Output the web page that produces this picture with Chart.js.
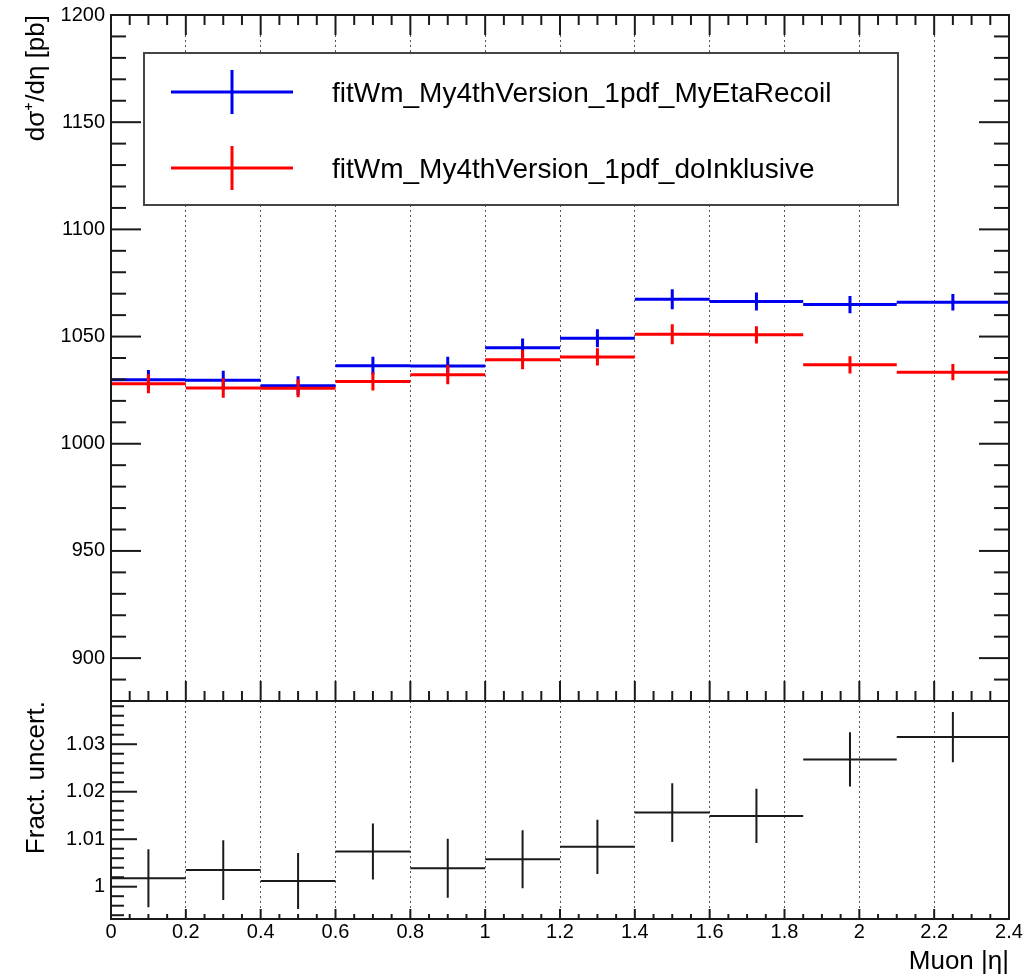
<!DOCTYPE html>
<html>
<head>
<meta charset="utf-8">
<script src="https://cdn.jsdelivr.net/npm/chart.js@4.4.1/dist/chart.umd.min.js"></script>
<style>
  html, body { margin: 0; padding: 0; background: #fff; }
  #wrap { position: relative; width: 1025px; height: 977px; overflow: hidden; }
  #xsecCanvas { position: absolute; left: 0; top: 0; }
  #ratioCanvas { position: absolute; left: 0; top: 690px; }
</style>
</head>
<body>
<div id="wrap">
  <canvas id="xsecCanvas" width="1025" height="712"></canvas>
  <canvas id="ratioCanvas" width="1025" height="287"></canvas>
</div>
<script>
// --- Data ---
const binEdges = [0, 0.2, 0.4, 0.6, 0.8, 1.0, 1.2, 1.4, 1.6, 1.85, 2.1, 2.4];
const seriesNames = ['fitWm_My4thVersion_1pdf_MyEtaRecoil', 'fitWm_My4thVersion_1pdf_doInklusive'];
const recoilXsec = [1029.9, 1029.6, 1027.1, 1036.4, 1036.3, 1044.8, 1049.2, 1067.4, 1066.3, 1064.9, 1066.0];
const recoilErr  = [4.5, 4.5, 4.4, 4.2, 4.3, 4.3, 4.2, 4.7, 4.2, 4.0, 3.9];
const inclXsec   = [1028.0, 1026.0, 1025.9, 1029.0, 1032.2, 1039.2, 1040.5, 1051.1, 1050.8, 1036.8, 1033.4];
const inclErr    = [4.4, 4.5, 4.2, 4.2, 4.5, 4.5, 4.0, 4.7, 4.0, 4.0, 3.8];
const ratioVals  = [1.0018, 1.0035, 1.0012, 1.0074, 1.0039, 1.0058, 1.0084, 1.0156, 1.0149, 1.0268, 1.0315];
const ratioErr   = [0.0061, 0.0063, 0.0059, 0.0059, 0.0062, 0.0061, 0.0057, 0.0062, 0.0057, 0.0057, 0.0053];
const xTicks      = [0, 0.2, 0.4, 0.6, 0.8, 1, 1.2, 1.4, 1.6, 1.8, 2, 2.2, 2.4];
const yTicksXsec  = [900, 950, 1000, 1050, 1100, 1150, 1200];
const yTicksRatio = [1, 1.01, 1.02, 1.03];

const colors = { blue: '#0000f0', red: '#ff0000', black: '#1a1a1a', grid: '#555555' };
const FONT = '"Liberation Sans", Arial, Helvetica, sans-serif';

Chart.defaults.font.family = FONT;
Chart.defaults.color = '#000';
Chart.defaults.animation = false;

// horizontal bin lines, broken between bins
const stepSegments = (vals) => vals.flatMap((v, i) => [
    { x: binEdges[i], y: v }, { x: binEdges[i + 1], y: v }, { x: binEdges[i + 1], y: null }
]);
// vertical error bars at bin centres
const errorSegments = (vals, errs) => vals.flatMap((v, i) => {
    const c = (binEdges[i] + binEdges[i + 1]) / 2;
    return [{ x: c, y: v - errs[i] }, { x: c, y: v + errs[i] }, { x: c, y: null }];
});

const lineSet = (label, data, color, width, order) => ({
    label, data, type: 'line', borderColor: color, borderWidth: width,
    pointRadius: 0, spanGaps: false, borderCapStyle: 'butt', order, fill: false
});

// fixed axis sizes so both pads line up
const fixWidth = (w) => (s) => { s.width = w; s.paddingTop = 0; s.paddingBottom = 0; };
const fixHeight = (h) => (s) => { s.height = h; s.paddingLeft = 0; s.paddingRight = 0; };

// ROOT-like frame with inward ticks
const rootFrame = {
    id: 'rootFrame',
    afterDatasetsDraw(chart, args, opts) {
        const { ctx, chartArea: a, scales } = chart;
        const xs = scales.x, ys = scales.y;
        ctx.save();
        ctx.strokeStyle = colors.black;
        ctx.lineWidth = 2;
        const seg = (x1, y1, x2, y2) => { ctx.beginPath(); ctx.moveTo(x1, y1); ctx.lineTo(x2, y2); ctx.stroke(); };
        const marks = (scale, minor, major) => {
            const out = [];
            const i0 = Math.ceil(scale.min / minor - 1e-6), i1 = Math.floor(scale.max / minor + 1e-6);
            for (let i = i0; i <= i1; i++) {
                const v = i * minor;
                const r = v / major;
                out.push({ p: scale.getPixelForValue(v), big: Math.abs(r - Math.round(r)) < 1e-6 });
            }
            return out;
        };
        marks(ys, opts.yMinor, opts.yMajor).forEach(t => {
            if (t.p <= a.top + 1 || t.p >= a.bottom - 1) return;
            const len = t.big ? opts.yLen[0] : opts.yLen[1];
            seg(a.left, t.p, a.left + len, t.p);
            if (opts.right) seg(a.right, t.p, a.right - len, t.p);
        });
        marks(xs, 0.05, 0.2).forEach(t => {
            if (t.p <= a.left + 1 || t.p >= a.right - 1) return;
            const len = t.big ? opts.xLen[0] : opts.xLen[1];
            seg(t.p, a.bottom, t.p, a.bottom - len);
            if (opts.top) seg(t.p, a.top, t.p, a.top + len);
        });
        ctx.strokeRect(a.left, a.top, a.right - a.left, a.bottom - a.top);
        ctx.restore();
    }
};

// legend box drawn inside the upper pad
const rootLegend = {
    id: 'rootLegend',
    afterDraw(chart) {
        const { ctx, chartArea: a } = chart;
        const box = { l: a.left + 33, t: a.top + 38, r: a.left + 787, b: a.top + 190 };
        ctx.save();
        ctx.fillStyle = '#fff';
        ctx.fillRect(box.l, box.t, box.r - box.l, box.b - box.t);
        ctx.strokeStyle = '#444';
        ctx.lineWidth = 2;
        ctx.strokeRect(box.l, box.t, box.r - box.l, box.b - box.t);
        [colors.blue, colors.red].forEach((col, k) => {
            const y = box.t + 39 + k * 76;
            ctx.strokeStyle = col;
            ctx.lineWidth = 3;
            ctx.beginPath();
            ctx.moveTo(box.l + 27, y); ctx.lineTo(box.l + 149, y);
            ctx.moveTo(box.l + 88, y - 22); ctx.lineTo(box.l + 88, y + 22);
            ctx.stroke();
            ctx.fillStyle = '#000';
            ctx.font = '28px ' + FONT;
            ctx.textBaseline = 'middle';
            ctx.textAlign = 'left';
            ctx.fillText(seriesNames[k], box.l + 188, y + 2);
        });
        ctx.restore();
    }
};

const xScaleBase = () => ({
    type: 'linear', min: 0, max: 2.4,
    afterBuildTicks: s => { s.ticks = xTicks.map(v => ({ value: v })); },
    grid: { display: true, drawTicks: false, color: colors.grid, lineWidth: 1 },
    border: { display: false, dash: [2, 3] }
});

// --- Upper pad: cross sections ---
new Chart(document.getElementById('xsecCanvas'), {
    type: 'line',
    data: {
        datasets: [
            lineSet(seriesNames[1], stepSegments(inclXsec), colors.red, 3, 1),
            lineSet(seriesNames[1] + ' err', errorSegments(inclXsec, inclErr), colors.red, 3, 1),
            lineSet(seriesNames[0], stepSegments(recoilXsec), colors.blue, 3, 2),
            lineSet(seriesNames[0] + ' err', errorSegments(recoilXsec, recoilErr), colors.blue, 3, 2)
        ]
    },
    options: {
        responsive: false,
        devicePixelRatio: 1,
        events: [],
        layout: { padding: { left: 0, top: 15, right: 16, bottom: 11 } },
        plugins: {
            legend: { display: false }, tooltip: { enabled: false },
            rootFrame: { yMinor: 10, yMajor: 50, yLen: [30, 15], xLen: [20, 10], right: true, top: true }
        },
        scales: {
            x: Object.assign(xScaleBase(), {
                ticks: { display: false },
                afterFit: fixHeight(0)
            }),
            y: {
                type: 'linear', min: 880, max: 1200,
                afterBuildTicks: s => { s.ticks = yTicksXsec.map(v => ({ value: v })); },
                afterFit: fixWidth(111),
                grid: { display: false },
                border: { display: false },
                ticks: { font: { size: 20 }, color: '#000', padding: -2, callback: v => String(v) },
                title: {
                    display: true, text: 'dσ⁺/dη [pb]', align: 'end',
                    font: { size: 26 }, color: '#000', padding: { top: 21, bottom: 0 }
                }
            }
        }
    },
    plugins: [rootFrame, rootLegend]
});

// --- Lower pad: ratio ---
new Chart(document.getElementById('ratioCanvas'), {
    type: 'line',
    data: {
        datasets: [
            lineSet('ratio', stepSegments(ratioVals), colors.black, 2, 1),
            lineSet('ratio err', errorSegments(ratioVals, ratioErr), colors.black, 2, 1)
        ]
    },
    options: {
        responsive: false,
        devicePixelRatio: 1,
        events: [],
        layout: { padding: { left: 0, top: 11, right: 16, bottom: 0 } },
        plugins: {
            legend: { display: false }, tooltip: { enabled: false },
            rootFrame: { yMinor: 0.002, yMajor: 0.01, yLen: [26, 13], xLen: [10, 5], right: false, top: false }
        },
        scales: {
            x: Object.assign(xScaleBase(), {
                afterFit: fixHeight(58),
                ticks: { display: true, font: { size: 20 }, color: '#000', padding: 1, maxRotation: 0, autoSkip: false,
                         callback: v => String(v) },
                title: {
                    display: true, text: 'Muon |η|', align: 'end',
                    font: { size: 26 }, color: '#000', padding: { top: 0, bottom: 0 }
                }
            }),
            y: {
                type: 'linear', min: 0.9932, max: 1.0391,
                afterBuildTicks: s => { s.ticks = yTicksRatio.map(v => ({ value: v })); },
                afterFit: fixWidth(111),
                grid: { display: false },
                border: { display: false },
                ticks: { font: { size: 20 }, color: '#000', padding: -2,
                         callback: v => (v === 1 ? '1' : v.toFixed(2)) },
                title: {
                    display: true, text: 'Fract. uncert.', align: 'end',
                    font: { size: 26 }, color: '#000', padding: { top: 21, bottom: 0 }
                }
            }
        }
    },
    plugins: [rootFrame]
});
</script>
</body>
</html>
